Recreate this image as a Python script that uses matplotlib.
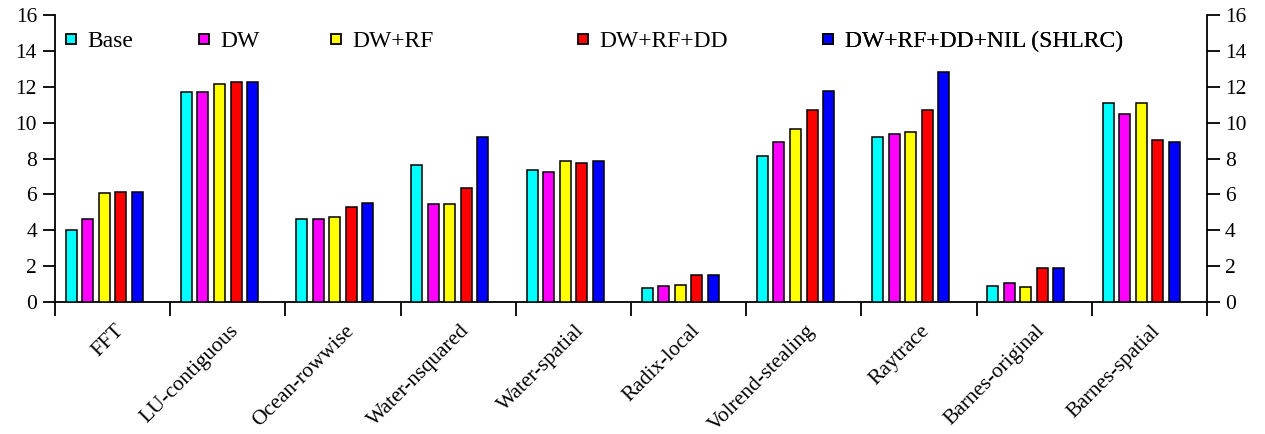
import matplotlib
matplotlib.use("Agg")
import matplotlib.pyplot as plt
from matplotlib.lines import Line2D
import numpy as np

plt.rcParams['font.family'] = ['Liberation Serif', 'DejaVu Serif']

categories = ["FFT", "LU-contiguous", "Ocean-rowwise", "Water-nsquared", "Water-spatial",
              "Radix-local", "Volrend-stealing", "Raytrace", "Barnes-original", "Barnes-spatial"]
series_names = ["Base", "DW", "DW+RF", "DW+RF+DD", "DW+RF+DD+NIL (SHLRC)"]
base = [4.03, 11.68, 4.65, 7.62, 7.38, 0.78, 8.12, 9.18, 0.87, 11.12]
dw = [4.63, 11.68, 4.65, 5.49, 7.25, 0.91, 8.94, 9.36, 1.08, 10.49]
dw_rf = [6.08, 12.14, 4.73, 5.47, 7.84, 0.95, 9.62, 9.47, 0.85, 11.07]
dw_rf_dd = [6.12, 12.24, 5.30, 6.34, 7.75, 1.48, 10.70, 10.70, 1.89, 9.03]
shlrc = [6.12, 12.24, 5.51, 9.20, 7.88, 1.48, 11.79, 12.85, 1.89, 8.90]
series = [base, dw, dw_rf, dw_rf_dd, shlrc]
colors = ["#00ffff", "#ff00ff", "#ffff00", "#ff0000", "#0000ff"]
yticks = [0, 2, 4, 6, 8, 10, 12, 14, 16]

fig = plt.figure(figsize=(12.65, 4.34), dpi=100)
ax = fig.add_axes([55/1265, 1 - 302/434, 1152/1265, 287/434])

n = len(categories)
idx = np.arange(n)
bw = 0.0957
pitch = 0.1435
first = 0.141
for k, (vals, c) in enumerate(zip(series, colors)):
    ax.bar(idx + first + k * pitch, vals, width=bw, color=c, edgecolor='black',
           linewidth=1.1, zorder=3)

ax.set_xlim(0, n)
ax.set_ylim(0, 16)
ax.set_yticks(yticks)
ax.set_xticks(np.arange(n + 1))
ax.set_xticklabels([])
ax.set_xticks(idx + 0.63, minor=True)
ax.set_xticklabels(categories, minor=True, rotation=45, ha='right', fontsize=15.5)
ax.tick_params(axis='x', which='major', direction='out', length=10, width=1.3)
ax.tick_params(axis='x', which='minor', length=0, pad=14)
ax.tick_params(axis='y', which='major', direction='out', length=9, width=1.3,
               left=True, right=True, labelleft=True, labelright=True, labelsize=15.5, pad=4)
ax.spines['top'].set_visible(False)
for s in ['left', 'right', 'bottom']:
    ax.spines[s].set_linewidth(1.3)

xpos = [0.0087, 0.124, 0.239, 0.453, 0.666]
for name, c, xp in zip(series_names, colors, xpos):
    h = Line2D([], [], marker='s', linestyle='none', markersize=7.5,
               markerfacecolor=c, markeredgecolor='black', markeredgewidth=1.3)
    leg = ax.legend([h], [name], loc='center left', bbox_to_anchor=(xp, 0.908),
                    frameon=False, borderpad=0, borderaxespad=0, handlelength=0.5,
                    handletextpad=0.45, fontsize=17)
    ax.add_artist(leg)

fig.savefig("out.png", dpi=100)
